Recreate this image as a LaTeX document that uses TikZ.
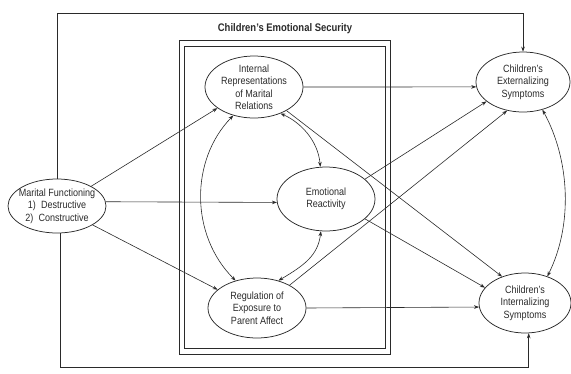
\documentclass[tikz,border=0pt]{standalone}
\usepackage{fontspec}
\setmainfont{Liberation Sans}[FakeStretch=0.86]
\usetikzlibrary{shapes.geometric,arrows.meta,calc}
\definecolor{ink}{HTML}{2A2A2A}
\begin{document}
\begin{tikzpicture}[x=1pt,y=-1pt,
  ell/.style={ellipse, draw=ink, line width=0.75pt, inner sep=0pt},
  lbl/.style={align=center, font=\fontsize{10.5}{12.5}\selectfont, text=ink},
  tip/.tip={Stealth[length=5pt,width=3.6pt]},
  arr/.style={draw=ink, line width=0.6pt, -tip},
  darr/.style={draw=ink, line width=0.6pt, tip-tip},
  boxline/.style={draw=ink, line width=0.8pt}]
\useasboundingbox (0,0) rectangle (571,373);

% security boxes
\draw[boxline] (179,40) rectangle (390,354);
\draw[boxline] (184,46) rectangle (385,348);
\node[font=\fontsize{11}{13}\selectfont\bfseries, text=ink] (title) at (285,29) {Children's Emotional Security};

% ellipses
\node[ell, minimum width=98pt, minimum height=54pt] (m)  at (57,206) {};
\node[ell, minimum width=98pt, minimum height=62pt] (ir) at (254,87) {};
\node[ell, minimum width=98pt, minimum height=64pt] (er) at (326,199) {};
\node[ell, minimum width=98pt, minimum height=60pt] (rg) at (257,308) {};
\node[ell, minimum width=94pt, minimum height=60pt] (ex) at (523,82) {};
\node[ell, minimum width=92pt, minimum height=60pt] (is) at (525,303) {};

% texts
\node[lbl] (mt)  at (m)  {Marital Functioning\\1)\enspace Destructive\\2)\enspace Constructive};
\node[lbl] (irt) at (ir) {Internal\\Representations\\of Marital\\Relations};
\node[lbl] (ert) at (er) {Emotional\\Reactivity};
\node[lbl] (rgt) at (rg) {Regulation of\\Exposure to\\Parent Affect};
\node[lbl] (ext) at (ex) {Children's\\Externalizing\\Symptoms};
\node[lbl] (ist) at (is) {Children's\\Internalizing\\Symptoms};

% outer frame connectors
\coordinate (topy) at (0,13);
\coordinate (boty) at (0,367);
\draw[arr] (m.north) -- (m.north |- topy) -| (ex.north);
\draw[arr] (m.-84) -- (m.-84 |- boty) -| (is.-83);

% from marital functioning
\draw[arr] (m.30) -- (ir.-150);
\draw[arr] (m.5) -- (er.184);
\draw[arr] (m.-28) -- (rg.155);

% within emotional security
\draw[darr] (ir.-45) .. controls (300,122) and (318,140) .. (er.100);
\draw[darr] (ir.-126) .. controls (190,160) and (190,235) .. (rg.128);
\draw[darr] (er.-99) .. controls (318,255) and (305,265) .. (rg.52);

% to outcomes
\draw[arr] (ir.east) -- (ex.186);
\draw[arr] (ir.-36) -- (is.131);
\draw[arr] (er.27) -- (ex.-152);
\draw[arr] (er.-27) -- (is.159);
\draw[arr] (rg.35) -- (ex.-119);
\draw[arr] (rg.east) -- (is.185);

% between outcomes
\draw[darr] (ex.-55) .. controls (570,160) and (573,225) .. (is.50);
\end{tikzpicture}
\end{document}
